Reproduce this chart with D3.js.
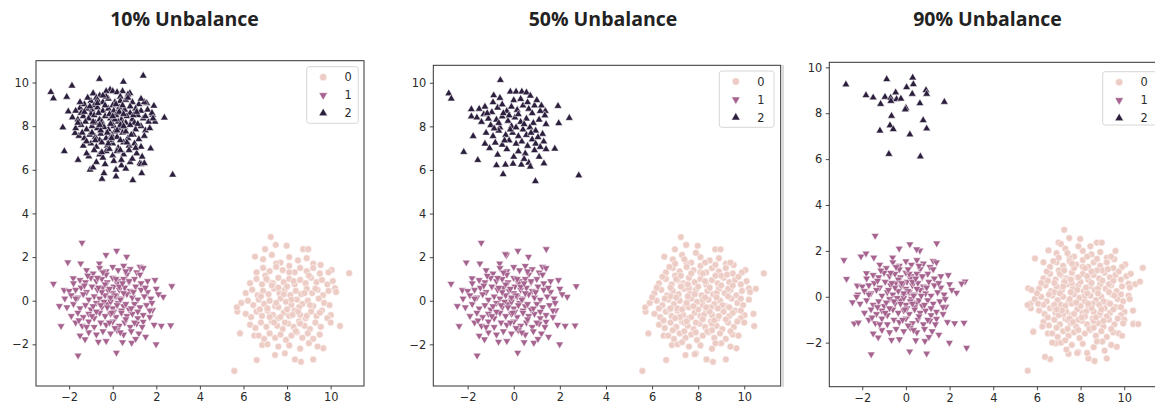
<!DOCTYPE html>
<html>
<head>
<meta charset="utf-8">
<script src="https://cdn.jsdelivr.net/npm/d3@7"></script>
<style>
  html, body { margin: 0; padding: 0; background: #fff; }
  svg { display: block; }
</style>
</head>
<body>
<svg id="chart" width="1155" height="410"></svg>
<script>
// ---- data -------------------------------------------------------------
const titles = ["10% Unbalance", "50% Unbalance", "90% Unbalance"];
const classes = ["0", "1", "2"];
const tickValues = [-2, 0, 2, 4, 6, 8, 10];

// class 0 (circles), shared core of the blob around (8, 0)
const c0Base = [
  [5.58,-3.22],[7.25,2.92],[7.48,2.56],[7.98,2.52],[8.74,2.36],[8.97,2.36],[10.85,1.26],[10.05,1.41],
  [9.54,1.64],[10.43,-1.16],[10.01,-0.66],[9.66,-2.18],[9.20,-2.69],[8.64,-2.80],[8.36,-2.69],[7.90,-2.41],
  [7.45,-2.49],[6.61,-2.72],[5.84,-1.50],[5.72,-0.50],[5.70,-0.30],[6.53,2.02],[6.99,2.36],[10.20,0.57],
  [6.86,-2.03],[6.50,-1.60],
  [6.9,1.9],[7.3,2.1],[7.7,1.75],[8.1,2.0],[8.5,1.85],[8.9,1.95],[9.2,1.7],[7.5,1.7],
  [6.6,1.3],[6.9,1.5],[7.2,1.35],[7.5,1.55],[7.8,1.4],[8.1,1.6],[8.35,1.3],[8.6,1.5],[8.9,1.35],[9.2,1.5],[9.5,1.25],[9.9,1.3],[7.0,1.15],
  [6.3,0.8],[6.6,1.0],[6.85,0.75],[7.1,0.95],[7.35,0.8],[7.6,1.05],[7.85,0.85],[8.1,1.0],[8.35,0.75],[8.6,0.95],[8.85,0.8],[9.1,1.05],[9.35,0.85],[9.6,0.95],[9.85,0.75],[10.1,0.9],
  [6.1,0.35],[6.4,0.5],[6.65,0.25],[6.9,0.45],[7.15,0.3],[7.4,0.55],[7.65,0.35],[7.9,0.5],[8.15,0.25],[8.4,0.45],[8.65,0.3],[8.9,0.55],[9.15,0.35],[9.4,0.5],[9.65,0.25],[9.9,0.45],[10.25,0.4],[8.0,0.65],
  [5.9,-0.1],[6.2,0.0],[6.45,-0.2],[6.7,0.05],[6.95,-0.15],[7.2,0.0],[7.45,-0.25],[7.7,0.1],[7.95,-0.05],[8.2,-0.2],[8.45,0.05],[8.7,-0.15],[8.95,0.0],[9.2,-0.25],[9.45,0.1],[9.7,-0.1],[9.95,-0.2],[7.6,-0.3],[8.55,-0.3],
  [6.1,-0.6],[6.35,-0.75],[6.6,-0.5],[6.85,-0.7],[7.1,-0.45],[7.35,-0.65],[7.6,-0.8],[7.85,-0.55],[8.1,-0.7],[8.35,-0.45],[8.6,-0.65],[8.85,-0.8],[9.1,-0.5],[9.35,-0.7],[9.6,-0.45],[9.85,-0.8],[8.0,-0.4],
  [6.3,-1.1],[6.55,-1.25],[6.8,-1.0],[7.05,-1.2],[7.3,-0.95],[7.55,-1.15],[7.8,-1.3],[8.05,-1.05],[8.3,-1.2],[8.55,-0.95],[8.8,-1.15],[9.05,-1.3],[9.3,-1.0],[9.55,-1.2],[10.0,-1.0],
  [6.7,-1.6],[6.95,-1.75],[7.2,-1.5],[7.45,-1.7],[7.7,-1.55],[7.95,-1.8],[8.2,-1.6],[8.45,-1.45],[8.7,-1.7],[8.95,-1.5],[9.2,-1.75],[9.5,-1.55],
  [7.1,-2.0],[7.6,-2.1],[8.1,-2.05],[8.6,-2.2],[9.0,-1.95],[9.4,-2.1]
];
// densest middle of the class 0 blob
const c0Core = [
  [7.85,0.3],[8.2,0.05],[7.5,-0.1],[8.5,-0.5],[7.7,-0.75],[8.8,0.35],[7.3,0.7],[8.3,0.9],[7.1,-0.35],[9.05,-0.2],
  [7.9,-1.0],[8.6,-1.05],[7.4,-1.0],[9.3,0.55],[6.8,0.2],[8.1,1.3],[7.6,0.6],[8.9,-0.7],[7.2,-0.75],[9.5,-0.55],
  [8.4,-1.4],[7.05,1.0],[9.0,1.15],[6.75,-0.4],[8.25,-0.65]
];
// extra class 0 points in the 50% and 90% panels
const c0More = [
  [7.0,1.7],[7.4,1.9],[7.9,2.2],[8.3,1.75],[8.75,1.65],[6.75,1.55],[9.4,1.75],[6.45,1.1],[7.25,1.15],[7.7,1.25],
  [8.2,1.25],[8.75,1.15],[9.25,1.2],[9.75,1.1],[6.2,0.6],[6.8,0.6],[7.25,0.65],[7.55,0.75],[8.5,0.6],[9.0,0.7],
  [9.5,0.7],[10.5,0.55],[6.0,0.15],[6.55,0.1],[7.05,0.15],[7.55,0.2],[8.3,0.15],[8.8,0.15],[9.3,0.2],[9.85,0.1],
  [10.2,0.05],[6.3,-0.35],[6.8,-0.35],[7.3,-0.4],[7.8,-0.25],[8.35,-0.3],[8.85,-0.35],[9.35,-0.3],[9.85,-0.45],[6.5,-0.9],
  [7.0,-0.8],[7.5,-0.95],[8.2,-0.85],[8.7,-0.9],[9.2,-0.85],[9.7,-0.95],[6.9,-1.35],[7.4,-1.4],[7.9,-1.45],[8.6,-1.35],
  [9.4,-1.4],[7.3,-1.9],[7.85,-2.45],[8.75,-1.95],[9.75,-1.6],[10.4,-0.6]
];
// extra class 0 points in the 90% panel
const c0More3 = [
  [5.91,1.67],[10.41,-1.19],[10.64,-1.19],[9.95,-1.16],[5.60,0.37],[5.75,0.30],[5.57,-0.36],[5.83,-1.53],[6.37,-2.62],
  [10.72,0.66],[6.3,1.5],[7.1,2.3],[8.45,2.2],[9.6,2.0],[10.3,1.0],[6.05,-0.3],[6.25,-1.3],[6.7,-2.0],[7.35,-2.3],
  [8.3,-2.45],[9.1,-2.35],[9.9,-1.7],[10.25,-0.1],[7.9,0.85],[8.05,-0.9],[7.15,-0.6],[8.95,-0.55],[9.55,0.05],
  [6.5,0.7],[7.6,1.45],[8.5,1.1],[9.05,-1.05],[7.65,-1.1],[6.9,-0.55],[8.25,0.4],[7.2,0.45]
];

// class 1 (down triangles), blob around (0, 0)
const c1Base = [
  [-1.41,2.66],[0.18,2.29],[-2.06,1.76],[-2.72,0.78],[-2.45,-0.24],[-2.37,-1.16],[-1.27,-1.77],[-1.59,-2.51],
  [-0.66,-1.88],[0.17,-2.38],[0.87,-1.93],[1.51,-1.65],[1.99,-2.0],[2.66,-1.13],[2.23,-1.15],[2.71,0.67],
  [2.32,0.18],[1.94,0.95],[1.25,1.56],[0.64,2.02],[-0.31,2.10],[-0.61,1.71],[-1.47,1.71],[-1.81,1.03],
  [-2.23,0.49],[1.83,-0.43],[1.40,-0.96],
  [-0.6,1.5],[-0.3,1.35],[0.0,1.55],[0.25,1.4],[0.5,1.6],[0.8,1.45],[1.1,1.3],[-0.9,1.25],[-1.2,1.4],[0.65,1.2],[1.4,1.5],
  [-1.5,0.95],[-1.25,0.85],[-1.0,1.05],[-0.75,0.9],[-0.5,1.0],[-0.25,0.85],[0.0,1.05],[0.25,0.9],[0.5,1.0],[0.75,0.85],[1.0,1.0],[1.3,0.8],[1.6,0.9],[-1.8,0.8],
  [-2.0,0.45],[-1.7,0.5],[-1.45,0.6],[-1.2,0.4],[-0.95,0.65],[-0.7,0.5],[-0.45,0.6],[-0.2,0.45],[0.05,0.65],[0.3,0.5],[0.55,0.6],[0.8,0.45],[1.05,0.65],[1.3,0.5],[1.6,0.4],[2.0,0.55],[-0.35,0.75],[0.2,0.8],
  [-2.2,0.1],[-1.9,0.25],[-1.6,0.15],[-1.35,0.3],[-1.1,0.05],[-0.85,0.2],[-0.6,0.1],[-0.35,0.25],[-0.1,0.05],[0.15,0.2],[0.4,0.1],[0.65,0.3],[0.9,0.15],[1.15,0.05],[1.45,0.2],[1.75,0.1],[2.1,0.3],[0.0,0.35],[0.5,0.35],[-0.5,0.4],
  [-2.1,-0.3],[-1.8,-0.15],[-1.5,-0.35],[-1.25,-0.2],[-1.0,-0.4],[-0.75,-0.1],[-0.5,-0.3],[-0.25,-0.15],[0.0,-0.35],[0.25,-0.1],[0.5,-0.25],[0.75,-0.4],[1.0,-0.15],[1.25,-0.3],[1.55,-0.2],[1.8,-0.1],[-0.1,-0.05],[0.4,-0.45],
  [-1.9,-0.7],[-1.6,-0.55],[-1.35,-0.75],[-1.1,-0.6],[-0.85,-0.8],[-0.6,-0.55],[-0.35,-0.7],[-0.1,-0.6],[0.15,-0.75],[0.4,-0.55],[0.65,-0.7],[0.9,-0.6],[1.15,-0.8],[1.4,-0.65],[1.7,-0.75],[0.05,-0.5],
  [-1.7,-1.0],[-1.4,-1.15],[-1.1,-0.95],[-0.85,-1.2],[-0.55,-1.0],[-0.3,-1.1],[0.0,-0.95],[0.3,-1.15],[0.55,-1.0],[0.8,-1.2],[1.1,-1.05],[1.35,-1.2],[1.9,-1.1],
  [-1.1,-1.45],[-0.75,-1.55],[-0.45,-1.4],[-0.1,-1.5],[0.2,-1.35],[0.5,-1.55],[0.85,-1.4],[1.2,-1.5],[-1.5,-1.6],
  [-0.3,-1.85],[0.45,-1.9],[1.05,-1.75]
];
// densest middle of the class 1 blob
const c1Core = [
  [-0.15,0.55],[0.1,0.25],[-0.4,-0.05],[0.35,0.05],[-0.25,-0.3],[0.6,-0.15],[-0.65,0.6],[0.75,0.9],[-0.9,-0.25],[0.95,0.4],
  [-0.05,-0.55],[0.3,0.65],[-0.55,-0.2],[0.6,-0.85],[-0.95,-0.7],[1.15,-0.5],[-0.3,1.2],[0.15,1.0],[-1.15,1.15],[1.0,-1.0],
  [-0.15,-1.0],[0.35,-1.45],[-1.2,-1.2],[1.5,0.6],[-0.7,1.05],[0.45,0.8],[-0.1,0.15],[0.2,-0.2],[-0.75,-0.5],[0.85,-0.35],
  [-1.3,0.7],[1.25,1.2],[-0.45,1.3],[0.6,1.35],[-1.55,-0.9],[-1.7,0.1],[1.7,-0.45],[0.1,-1.25]
];
const c1More2 = [[1.41,2.37],[-0.36,2.14]];
const c1More3 = [
  [1.41,2.33],[-2.84,1.60],[-1.83,1.89],[2.78,-2.22],[0.95,-2.47],[-2.26,0.0],[-2.18,-1.12],[2.55,0.58],[0.49,2.07],
  [-0.8,0.3],[0.3,-0.3],[-0.2,0.6],[0.7,0.05],[-1.3,-0.45],[0.1,1.2]
];

// class 2 (up triangles), blob around (0, 8)
const c2Ten = [
  [-2.84,9.56],[-2.72,9.27],[-1.87,9.85],[-2.11,9.34],[-0.61,10.16],[0.49,10.03],[1.40,10.31],[-2.29,7.94],
  [-2.22,6.85],[-1.59,6.45],[-1.10,6.61],[-0.49,5.58],[-0.40,5.84],[0.15,5.69],[0.92,5.52],[1.33,5.84],
  [2.75,5.77],[2.37,8.39],[1.74,6.97],[1.89,8.93],[1.94,8.20],[1.83,8.52],[1.56,9.05],[0.79,9.51],
  [-0.12,9.67],[-0.89,9.51],[-1.50,8.83],[-2.04,8.67],[-1.73,7.68],[-1.04,6.0],[1.25,6.30],
  [-0.9,9.5],[-0.6,9.4],[-0.3,9.6],[0.0,9.6],[0.2,9.55],[0.45,9.6],[0.7,9.45],[-0.75,9.3],[0.35,9.35],
  [-1.3,9.0],[-1.0,9.15],[-0.7,9.2],[-0.45,9.1],[-0.2,9.25],[0.1,9.1],[0.35,9.15],[0.6,9.2],[0.9,9.1],[1.2,9.0],[-1.5,9.1],[0.0,8.95],[-0.85,8.95],[1.45,9.1],
  [-1.7,8.7],[-1.45,8.6],[-1.2,8.8],[-0.95,8.75],[-0.7,8.85],[-0.45,8.7],[-0.2,8.8],[0.05,8.7],[0.3,8.85],[0.55,8.75],[0.8,8.6],[1.05,8.8],[1.3,8.7],[1.6,8.75],[-0.35,8.95],[0.45,8.95],[-1.0,8.55],[0.2,8.6],[1.8,8.6],
  [-1.85,8.4],[-1.6,8.3],[-1.35,8.45],[-1.1,8.35],[-0.85,8.5],[-0.6,8.3],[-0.35,8.45],[-0.1,8.35],[0.15,8.5],[0.4,8.3],[0.65,8.45],[0.9,8.3],[1.15,8.5],[1.4,8.35],[1.65,8.2],[-0.5,8.2],[0.25,8.2],[1.0,8.15],[-1.25,8.2],[0.6,8.15],[1.85,8.35],
  [-1.7,7.9],[-1.45,8.05],[-1.2,7.85],[-0.95,8.0],[-0.7,7.9],[-0.45,8.05],[-0.2,7.85],[0.05,8.0],[0.3,7.9],[0.55,7.95],[0.8,8.05],[1.05,7.85],[1.3,8.0],[1.5,7.8],[-0.05,8.15],[-0.8,8.15],[0.45,8.1],
  [-1.55,7.55],[-1.3,7.45],[-1.05,7.6],[-0.8,7.5],[-0.55,7.65],[-0.3,7.45],[-0.05,7.6],[0.2,7.5],[0.45,7.7],[0.7,7.45],[0.95,7.6],[1.2,7.4],[1.45,7.55],[-1.4,7.7],[0.1,7.75],[-0.6,7.35],
  [-1.35,7.1],[-1.0,7.2],[-0.75,7.05],[-0.5,7.25],[-0.25,7.1],[0.0,7.2],[0.25,7.0],[0.5,7.25],[0.75,7.1],[1.0,7.2],[1.3,7.05],[-0.15,7.35],[0.35,7.35],
  [-1.2,6.75],[-0.85,6.9],[-0.6,6.7],[-0.3,6.85],[0.0,6.65],[0.2,6.85],[0.5,6.7],[0.75,6.9],[1.1,6.75],[1.35,6.6],[-0.45,6.55],
  [-0.75,6.35],[-0.35,6.25],[0.05,6.4],[0.4,6.2],[0.8,6.35],[1.3,6.25],[1.45,6.3],[-0.9,6.1],[0.6,6.05],[0.15,6.0],
  [-0.15,8.55],[0.1,8.3],[-0.4,7.95],[0.35,8.05],[-0.25,7.7],[0.6,7.75],[-0.65,8.6],[0.8,8.9],[-0.9,8.2],[0.95,8.5],
  [-0.05,7.45],[0.3,8.65],[-0.55,7.8],[0.65,7.25],[-0.95,7.7],[1.15,8.1],[-0.3,9.35],[0.15,9.0],[-1.15,9.3],[1.05,7.0],
  [-0.15,6.95],[0.4,6.45],[-1.2,7.3],[1.5,8.45],[-0.7,9.05],[0.5,8.55],[-0.1,8.1],[0.2,7.8],[-0.8,7.35],[0.85,7.6],
  [-1.3,8.65],[1.3,9.25],[-0.45,9.4],[0.7,9.3],[0.0,8.45],[-0.6,8.05],[0.5,8.0],[-1.05,8.9],[1.1,8.65],[-0.2,7.2],
  [0.35,6.9],[-0.5,6.8],[0.9,6.5],[-1.6,8.15],[1.7,7.9]
];
const c2Fifty = [
  [-2.82,9.51],[-2.71,9.27],[-0.58,10.12],[1.92,8.93],[2.41,8.38],[1.95,8.14],[-2.17,6.82],[-1.56,6.45],
  [-1.76,7.55],[-0.46,5.80],[0.94,5.48],[2.82,5.75],[1.78,6.97],[1.31,6.30],[-0.75,6.21],[-0.36,6.24],
  [-0.03,6.28],[0.33,6.24],[0.65,6.33],[0.72,6.15],[-1.84,8.78],[-1.84,8.45],[1.37,8.70],
  [-0.15,9.59],[0.10,9.59],[0.35,9.59],[0.55,9.55],[0.72,9.40],[-0.87,9.42],
  [-1.5,8.8],[-1.3,8.55],[-1.1,8.35],[-0.9,9.1],[-0.7,8.85],[-0.5,9.0],[-0.3,8.7],[-0.1,8.9],[0.15,8.75],[0.4,8.95],
  [0.65,8.8],[0.9,8.95],[1.15,8.7],[1.35,8.5],[-1.6,8.4],[-1.25,8.9],[0.0,9.2],[0.3,9.25],[-0.6,9.3],[0.8,8.6],
  [-1.4,8.2],[-1.0,8.05],[-0.75,8.3],[-0.5,8.45],[-0.25,8.25],[0.05,8.4],[0.3,8.2],[0.55,8.35],[0.85,8.15],[1.1,8.3],
  [1.4,8.1],[-0.6,7.95],[-0.1,8.0],[0.4,7.85],[0.95,7.8],[1.25,7.65],
  [-1.2,7.7],[-0.9,7.55],[-0.65,7.8],[-0.35,7.6],[-0.05,7.7],[0.2,7.55],[0.55,7.6],[0.8,7.4],[1.05,7.5],[1.3,7.3],
  [-0.8,7.25],[-0.5,7.15],[-0.2,7.35],[0.1,7.2],[0.35,7.3],[0.6,7.1],[0.95,7.2],[1.15,7.05],[-1.25,7.2],[-1.05,7.0],
  [-0.3,6.95],[0.2,6.85],[0.5,6.75],[0.9,6.9],[1.4,6.95],[-0.7,6.7],[0.0,6.6],[0.45,6.5],[1.1,6.6],
  [-0.45,8.6],[0.2,8.55],[0.6,9.1],[1.0,9.2],[-0.95,8.65],[-0.15,7.85],[0.7,7.95],[-0.85,7.9],
  [-0.2,8.5],[0.45,8.1],[-0.4,7.35],[0.75,7.7],[-1.15,8.6],[1.2,8.95],[0.1,7.95],[-0.65,8.15]
];
const c2Ninety = [
  [-2.75,9.25],[-0.88,9.48],[0.31,9.55],[0.34,9.26],[0.03,9.13],[0.92,9.0],[0.95,8.84],[0.29,8.84],
  [-1.83,8.78],[-1.50,8.68],[-0.96,8.71],[-0.70,8.67],[-0.47,8.90],[-0.43,8.61],[-0.23,8.63],[-0.69,8.53],
  [-1.16,8.40],[1.76,8.49],[0.64,8.43],[0.0,8.23],[-0.03,8.16],[-0.66,7.88],[0.79,7.69],[-0.73,7.47],
  [-0.58,7.30],[-1.19,7.24],[0.95,7.33],[0.18,7.07],[-0.78,6.22],[0.66,6.11]
];

// ---- drawing ----------------------------------------------------------
const palette = ["#edccc5", "#a6638f", "#2c1e3d"];
const symbols = [d3.symbolCircle, d3.symbolTriangle, d3.symbolTriangle];
const rotations = [0, 180, 0];
const sizes = [36, 26, 26];

const panels = [
  { title: titles[0], pts: [c0Base.concat(c0Core), c1Base.concat(c1Core), c2Ten],
    box: { l: 36, r: 364, t: 60.7, b: 386 }, xd: [-3.52, 11.53], yd: [-3.91, 11.0],
    titleX: 184.5, legend: { x: 306.7, y: 66.7, w: 51.6, h: 56.6 } },
  { title: titles[1], pts: [c0Base.concat(c0Core, c0More), c1Base.concat(c1Core, c1More2), c2Fifty],
    box: { l: 433.3, r: 780.7, t: 65.3, b: 386 }, xd: [-3.49, 11.58], yd: [-3.91, 10.8],
    titleX: 603, legend: { x: 719.3, y: 71, w: 54.7, h: 56.3 } },
  { title: titles[2], pts: [c0Base.concat(c0Core, c0More, c0More3), c1Base.concat(c1Core, c1More3), c2Ninety],
    box: { l: 829.3, r: 1157, t: 62.3, b: 386.7 }, xd: [-3.51, 11.5], yd: [-3.92, 10.22],
    titleX: 987.5, legend: { x: 1102.7, y: 71.7, w: 56, h: 53.3 } }
];

const svg = d3.select("#chart");

// thin edge line at the left of the third panel
svg.append("line")
  .attr("x1", 783).attr("x2", 783).attr("y1", 65).attr("y2", 387)
  .attr("stroke", "#b8b8b8").attr("stroke-width", 1);

panels.forEach(p => {
  const x = d3.scaleLinear().domain(p.xd).range([p.box.l, p.box.r]);
  const y = d3.scaleLinear().domain(p.yd).range([p.box.b, p.box.t]);
  const g = svg.append("g");

  g.append("text")
    .attr("x", p.titleX).attr("y", 26)
    .attr("text-anchor", "middle")
    .attr("font-family", "'Open Sans', sans-serif")
    .attr("font-weight", 700).attr("font-size", 19.5)
    .attr("fill", "#222")
    .text(p.title);

  const fmt = d => d < 0 ? "\u2212" + Math.abs(d) : String(d);

  const xAxis = g.append("g")
    .attr("transform", `translate(0,${p.box.b})`)
    .call(d3.axisBottom(x).tickValues(tickValues).tickFormat(fmt).tickSize(3.5).tickPadding(3.5));
  const yAxis = g.append("g")
    .attr("transform", `translate(${p.box.l},0)`)
    .call(d3.axisLeft(y).tickValues(tickValues).tickFormat(fmt).tickSize(3.5).tickPadding(3.5));
  [xAxis, yAxis].forEach(a => {
    a.select(".domain").remove();
    a.selectAll("line").attr("stroke", "#333").attr("stroke-width", 0.9);
    a.selectAll("text")
      .attr("font-family", "'DejaVu Sans', sans-serif")
      .attr("font-size", 11.4).attr("fill", "#2a2a2a");
  });

  // points
  p.pts.forEach((arr, ci) => {
    const sym = d3.symbol().type(symbols[ci]).size(sizes[ci]);
    g.append("g").selectAll("path")
      .data(arr)
      .join("path")
      .attr("d", sym)
      .attr("transform", d => `translate(${x(d[0])},${y(d[1])}) rotate(${rotations[ci]})`)
      .attr("fill", palette[ci])
      .attr("stroke", "#fff")
      .attr("stroke-width", 0.5);
  });

  // frame
  g.append("rect")
    .attr("x", p.box.l).attr("y", p.box.t)
    .attr("width", p.box.r - p.box.l).attr("height", p.box.b - p.box.t)
    .attr("fill", "none").attr("stroke", "#333").attr("stroke-width", 1);

  // legend
  const L = p.legend;
  const lg = g.append("g");
  lg.append("rect")
    .attr("x", L.x).attr("y", L.y).attr("width", L.w).attr("height", L.h)
    .attr("rx", 2.5).attr("fill", "#fff").attr("fill-opacity", 0.85)
    .attr("stroke", "#d6d6d6").attr("stroke-width", 1);
  classes.forEach((c, i) => {
    const cy = L.y + 10.5 + i * 18;
    lg.append("path")
      .attr("d", d3.symbol().type(symbols[i]).size(sizes[i] + 6)())
      .attr("transform", `translate(${L.x + 16.5},${cy}) rotate(${rotations[i]})`)
      .attr("fill", palette[i]).attr("stroke", "#fff").attr("stroke-width", 0.5);
    lg.append("text")
      .attr("x", L.x + 41.5).attr("y", cy + 4)
      .attr("text-anchor", "middle")
      .attr("font-family", "'DejaVu Sans', sans-serif")
      .attr("font-size", 11.4).attr("fill", "#2a2a2a")
      .text(c);
  });
});
</script>
</body>
</html>
